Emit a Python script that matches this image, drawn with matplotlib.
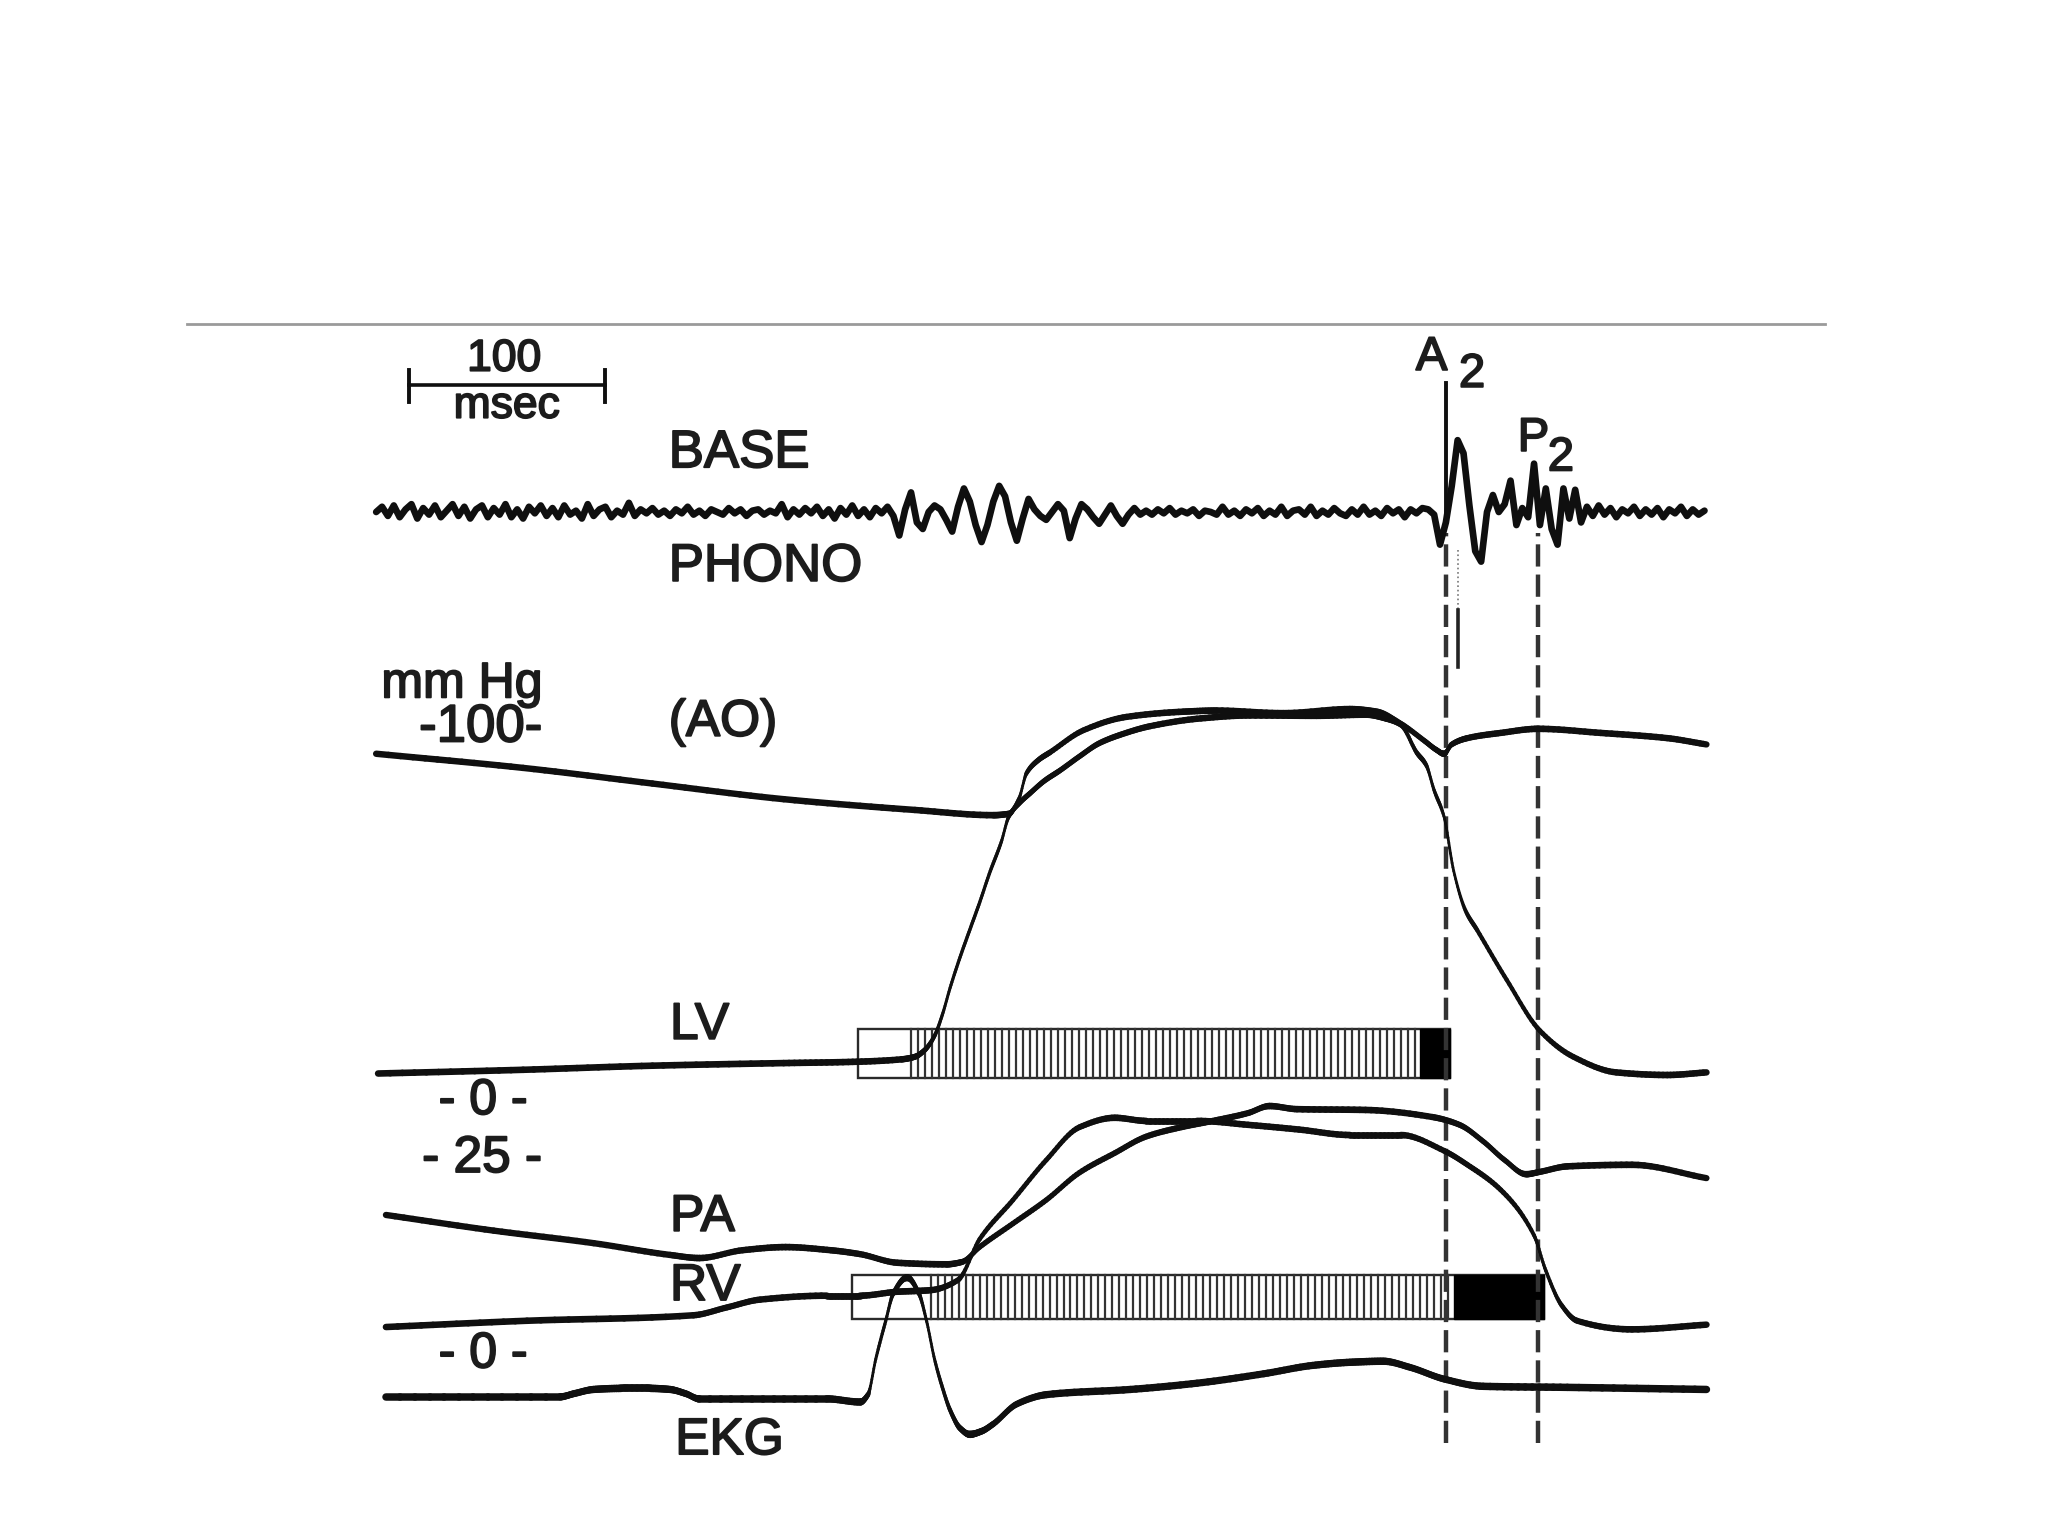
import numpy as np
import matplotlib
matplotlib.use("Agg")
import matplotlib.pyplot as plt
from matplotlib.collections import LineCollection
from matplotlib.patches import Rectangle
import matplotlib.transforms as mtransforms
import matplotlib.patheffects as pe

# ---------------- data (time in msec) ----------------
ao_t = [0, 75, 141, 208, 275, 315, 323, 328, 332, 338, 344, 361, 383, 412, 429,
        463, 497, 511, 523, 535, 541, 545, 549, 557, 574, 593, 625, 659, 679]
ao_p = [93.3, 89.5, 85.3, 81.1, 78.2, 76.8, 77.2, 81.1, 88.1, 91.6, 93.7, 99.6,
        103.2, 104.6, 104.9, 104.2, 105.3, 104.6, 101.4, 96.8, 94.4, 93.3, 95.8,
        97.5, 98.9, 100.0, 98.9, 97.5, 95.8]

lv_t = [1, 75, 141, 208, 241, 268, 275, 280, 285, 289, 293, 298, 303, 308, 313,
        319, 323, 329, 334, 341, 349, 359, 369, 381, 395, 421, 446, 480, 505, 515,
        523, 531, 536, 540, 545, 550, 556, 562, 577, 594, 611, 633, 659, 679]
lv_p = [7.4, 8.4, 9.5, 10.2, 10.5, 11.2, 11.9, 13.7, 17.5, 23.2, 30.5, 38.6, 46.0,
        53.3, 61.1, 69.5, 76.5, 80.4, 82.8, 86.0, 88.8, 92.6, 96.1, 98.6, 100.7,
        102.8, 103.6, 103.5, 103.8, 102.8, 101.1, 93.7, 90.2, 83.5, 76.5, 61.8,
        51.2, 45.9, 32.6, 18.9, 11.9, 7.7, 7.0, 7.7]

pa_t = [5, 60, 111, 150, 165, 187, 209, 232, 247, 266, 291, 299, 308, 325, 342,
        359, 377, 393, 411, 427, 445, 456, 470, 505, 539, 553, 565, 576, 587, 594,
        608, 641, 679]
pa_p = [17.8, 15.8, 14.2, 12.7, 12.3, 13.3, 13.7, 13.3, 12.8, 11.7, 11.5, 11.8,
        13.7, 16.7, 19.7, 23.2, 25.7, 27.8, 29.0, 29.8, 30.8, 31.7, 31.3, 31.2,
        30.3, 29.3, 27.2, 24.8, 23.0, 23.3, 24.0, 24.2, 22.5]

rv_t = [5, 77, 162, 179, 196, 230, 247, 266, 283, 297, 308, 325, 342, 359, 377,
        393, 419, 445, 471, 497, 523, 545, 557, 574, 591, 597, 605, 613, 641, 679]
rv_p = [3.5, 4.3, 5.0, 6.0, 7.0, 7.5, 7.5, 8.0, 8.2, 9.5, 14.7, 19.7, 24.8, 29.0,
        30.2, 29.8, 29.8, 29.3, 28.7, 28.0, 28.0, 26.0, 24.2, 21.0, 15.2, 10.7,
        6.3, 4.3, 3.2, 3.8]

ekg_t = [5, 94, 101, 111, 125, 140, 150, 158, 165, 230, 247, 251, 255, 260, 264,
         271, 277, 281, 285, 289, 293, 298, 303, 309, 315, 327, 342, 385, 419,
         453, 478, 497, 514, 528, 545, 565, 608, 679]
ekg_mv = [-0.03, -0.03, 0.00, 0.04, 0.05, 0.05, 0.04, 0.00, -0.05, -0.05, -0.08,
          -0.01, 0.33, 0.69, 0.96, 1.11, 0.96, 0.69, 0.33, 0.06, -0.16, -0.33,
          -0.39, -0.36, -0.29, -0.10, -0.01, 0.04, 0.10, 0.19, 0.27, 0.30, 0.31,
          0.25, 0.14, 0.07, 0.06, 0.04]

phono_dt = 3  # msec between samples
phono = [0, 4, -3, 5, -4, 2, 6, -5, 3, -2, 5, -4, 1, 6, -3,
         4, -5, 2, 5, -4, 3, -2, 6, -4, 2, -5, 4, -1, 5, -3,
         3, -4, 5, -2, 1, -5, 6, -3, 2, 4, -4, 1, -2, 7, -3,
         2, -1, 3, -2, 1, -3, 2, -1, 4, -2, 1, -3, 2, 0, -2,
         3, -1, 2, -3, 1, 2, -2, 1, -1, 6, -4, 2, -2, 3, -1,
         4, -3, 2, -5, 3, -2, 5, -3, 2, -4, 3, -1, 4, -3,
         -18, 2, 15, -8, -13, 0, 5, 2, -6, -15, 4, 18, 8, -10, -23, -10, 8, 20,
         12, -8, -22, -5, 10, 2, -3, -6, 0, 6, 1, -20, -5, 6, 2, -4, -9, -2, 5,
         -3, -9, -2, 3, -2,
         1, -2, 2, -1, 3, -2, 1, -1, 2, -3, 1, 0, -2, 4, -2, 1, -3, 2, -1, 3,
         -3, 1, -2, 4, -3, 1, 2, -2, 4, -3, 1, -2, 3, -1, -3, 2, -2, 4, -2, 1,
         -3, 3, -1, 2, -4, 2, -1, 3,
         2, -2, -25, -8, 20, 55, 45, 5, -30, -38, 0, 13, 0, 6, 24, -10, 3, -4,
         37, -10, 18, -13, -25, 18, -5, 17, -8,
         4, -3, 5, -2, 3, -4, 2, -1, 4, -3, 2, -2, 3, -4, 2, -1, 4, -3, 2, -2, 1]

a2_t = 546      # aortic closure (msec)
p2_t = 593      # pulmonic closure (msec)
lv_bar = [246, 273, 533, 548]   # box start, hatch start, black start, end
rv_bar = [243, 283, 550, 596]
scale_bar = [17, 117]           # 100 msec
artifact_t = 552
artifact_dotted = [-29, -75]
artifact_solid = [-75, -119]

# ---------------- layout ----------------
W, H = 1568.0, 1176.0
X0, PXMS = 288.0, 1.5
T0, T1 = -X0 / PXMS, (W - X0) / PXMS
FONT = "Liberation Sans"
INK = "#0f0f0f"
TXT = "#1c1c1c"

fig = plt.figure(figsize=(20.48, 15.36), dpi=100)
fig.patch.set_facecolor("white")


def overlay(y0, k):
    ax = fig.add_axes([0, 0, 1, 1])
    ax.set_xlim(T0, T1)
    ax.set_ylim((y0 - H) / k, y0 / k)
    ax.axis("off")
    ax.patch.set_alpha(0)
    return ax


def fy(y):
    return 1 - y / H


def pchip(x, y, n=12):
    """Monotone cubic rendering of the read points (no overshoot)."""
    x = np.asarray(x, float)
    y = np.asarray(y, float)
    h = np.diff(x)
    d = np.diff(y) / h
    m = np.zeros_like(y)
    m[0], m[-1] = d[0], d[-1]
    for k in range(1, len(x) - 1):
        if d[k - 1] * d[k] > 0:
            w1 = 2 * h[k] + h[k - 1]
            w2 = h[k] + 2 * h[k - 1]
            m[k] = (w1 + w2) / (w1 / d[k - 1] + w2 / d[k])
    xs, ys = [], []
    for k in range(len(x) - 1):
        s = np.linspace(0, 1, n, endpoint=False)
        h00 = 2 * s**3 - 3 * s**2 + 1
        h10 = s**3 - 2 * s**2 + s
        h01 = -2 * s**3 + 3 * s**2
        h11 = s**3 - s**2
        xs.append(x[k] + s * h[k])
        ys.append(h00 * y[k] + h10 * h[k] * m[k] + h01 * y[k + 1] + h11 * h[k] * m[k + 1])
    xs.append([x[-1]])
    ys.append([y[-1]])
    return np.concatenate(xs), np.concatenate(ys)


def trace(ax, t, v, wmax=4.8, wmin=2.0, k=0.35, color=INK, z=5):
    t, v = pchip(t, v)
    pts = ax.transData.transform(np.column_stack([t, v]))
    d = np.diff(pts, axis=0)
    slope = np.abs(d[:, 1]) / np.maximum(np.abs(d[:, 0]), 1e-6)
    w = np.clip(wmax / (1 + k * slope), wmin, wmax)
    segs = np.stack([np.column_stack([t[:-1], v[:-1]]),
                     np.column_stack([t[1:], v[1:]])], axis=1)
    lc = LineCollection(segs, linewidths=w, colors=color,
                        capstyle="round", joinstyle="round", zorder=z)
    ax.add_collection(lc)


ax_ph = overlay(392, 1.0)
ax_lv = overlay(843, 2.85)
ax_rv = overlay(1037, 6.0)
ax_ek = overlay(1067, 80.0)
blend = mtransforms.blended_transform_factory(ax_ph.transData, ax_ph.transAxes)

# top gray rule
fig.add_artist(plt.Line2D([143 / W, 1397 / W], [fy(248), fy(248)],
                          color="#9a9a9a", lw=2.0))

# scale bar
ax_ph.plot(scale_bar, [fy(295)] * 2, transform=blend, color=INK, lw=2.6)
for s in scale_bar:
    ax_ph.plot([s, s], [fy(283), fy(308)], transform=blend, color=INK, lw=2.8)


# ejection bars
def bar(ax, ev, ytop, ybot):
    y0, y1 = fy(ybot), fy(ytop)
    ax.add_patch(Rectangle((ev[0], y0), ev[3] - ev[0], y1 - y0, transform=blend,
                           fill=False, ec="#2a2a2a", lw=1.7, zorder=2))
    for x in np.arange(ev[1], ev[2], 3.57):
        ax.plot([x, x], [y0, y1], transform=blend, color="#333333", lw=1.6, zorder=2)
    ax.add_patch(Rectangle((ev[2], y0), ev[3] - ev[2], y1 - y0, transform=blend,
                           fc="black", ec="black", lw=1.0, zorder=3))


bar(ax_ph, lv_bar, 788, 825)
bar(ax_ph, rv_bar, 976, 1010)

# A2 / P2 markers
dash = (0, (5.0, 1.8))
ax_ph.plot([a2_t, a2_t], [0, 99], color=INK, lw=2.8, zorder=6)
ax_ph.plot([a2_t, a2_t], [fy(1105), fy(408)], transform=blend, color="#333333",
           lw=3.2, ls=dash, zorder=4)
ax_ph.plot([p2_t, p2_t], [fy(1105), fy(408)], transform=blend, color="#333333",
           lw=3.2, ls=dash, zorder=4)
ax_ph.plot([artifact_t] * 2, artifact_dotted, color="#777777", lw=1.2, ls=":")
ax_ph.plot([artifact_t] * 2, artifact_solid, color="#222222", lw=2.6)

# traces
ph_t = np.arange(len(phono)) * phono_dt
ax_ph.plot(ph_t, phono, color=INK, lw=4.8, solid_joinstyle="round",
           solid_capstyle="round", zorder=5)
trace(ax_lv, ao_t, ao_p)
trace(ax_lv, lv_t, lv_p)
trace(ax_rv, pa_t, pa_p)
trace(ax_rv, rv_t, rv_p)
trace(ax_ek, ekg_t, ekg_mv, wmax=5.4)

# texts
stroke = [pe.withStroke(linewidth=1.3, foreground=TXT)]


def txt(x, y, s, ha="left", size=37):
    fig.text(x / W, fy(y), s, ha=ha, va="center", fontsize=size,
             family=FONT, color=TXT, path_effects=stroke)


txt(386, 275, "100", ha="center", size=32)
txt(388, 311, "msec", ha="center", size=32)
txt(512, 347, "BASE", size=38)
txt(512, 434, "PHONO", size=38)
txt(292, 524, "mm Hg", size=36)
txt(368, 557, "-100-", ha="center", size=38)
txt(512, 553, "(AO)", size=37)
txt(513, 785, "LV", size=37)
txt(370, 843, "- 0 -", ha="center", size=36)
txt(369, 887, "- 25 -", ha="center", size=37)
txt(513, 932, "PA", size=37)
txt(513, 985, "RV", size=37)
txt(370, 1037, "- 0 -", ha="center", size=36)
txt(517, 1103, "EKG", size=37)
txt(1084, 274, "A", size=34)
txt(1117, 287, "2", size=34)
txt(1162, 336, "P", size=34)
txt(1185, 351, "2", size=34)

fig.savefig("out.png", dpi=100, facecolor="white")
